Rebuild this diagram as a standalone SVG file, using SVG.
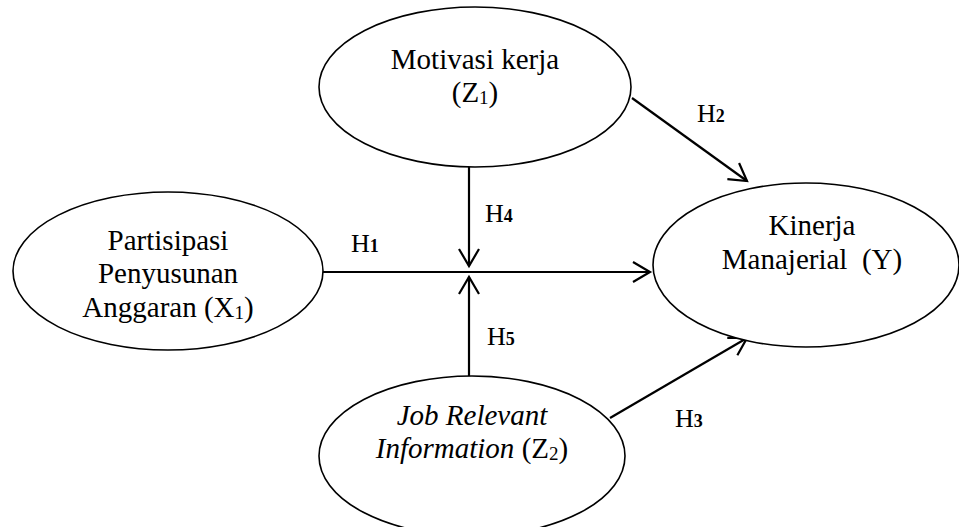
<svg xmlns="http://www.w3.org/2000/svg" width="959" height="527" viewBox="0 0 959 527">
<style>
.node ellipse{fill:#fff;stroke:#000;stroke-width:1.6}
text{font-family:"Liberation Serif","Times New Roman",serif;font-size:29px;fill:#000;text-anchor:middle}
.lbl{text-anchor:start;font-size:26px}
.sub{font-size:19px}
.hs{font-size:18px;font-weight:bold}
.conn line{stroke:#000;stroke-width:2.2;fill:none}
</style>
<defs>
<marker id="arr" markerUnits="userSpaceOnUse" markerWidth="26" markerHeight="26" refX="18" refY="11" orient="auto" viewBox="0 0 26 22">
<path d="M1,1 L18,11 L1,21" fill="none" stroke="#000" stroke-width="2.2"/>
</marker>
</defs>
<g class="conn">
<line x1="323" y1="272" x2="650" y2="272" marker-end="url(#arr)"/>
<line x1="469" y1="167" x2="469" y2="266" marker-end="url(#arr)"/>
<line x1="469" y1="376" x2="469" y2="277" marker-end="url(#arr)"/>
<line x1="632" y1="98" x2="747" y2="181" marker-end="url(#arr)"/>
<line x1="610" y1="418" x2="747" y2="338" marker-end="url(#arr)"/>
</g>
<g id="z1" class="node">
<ellipse cx="475" cy="87" rx="156" ry="80"/>
<text x="475" y="69">Motivasi kerja</text>
<text x="475" y="102">(Z<tspan class="sub" dy="2">1</tspan><tspan dy="-2">)</tspan></text>
</g>
<g id="x1" class="node">
<ellipse cx="168" cy="271" rx="155" ry="79"/>
<text x="168" y="250">Partisipasi</text>
<text x="168" y="283">Penyusunan</text>
<text x="168" y="317">Anggaran (X<tspan class="sub" dy="2">1</tspan><tspan dy="-2">)</tspan></text>
</g>
<g id="y" class="node">
<ellipse cx="806" cy="265" rx="153" ry="82"/>
<text x="812" y="235">Kinerja</text>
<text x="812" y="269" xml:space="preserve">Manajerial  (Y)</text>
</g>
<g id="z2" class="node">
<ellipse cx="472" cy="456" rx="153" ry="80"/>
<text x="472" y="425" font-style="italic">Job Relevant</text>
<text x="472" y="458"><tspan font-style="italic">Information</tspan> (Z<tspan class="sub" dy="2">2</tspan><tspan dy="-2">)</tspan></text>
</g>
<g id="labels">
<text class="lbl" x="351" y="252">H<tspan class="hs">1</tspan></text>
<text class="lbl" x="697" y="122">H<tspan class="hs">2</tspan></text>
<text class="lbl" x="675" y="427">H<tspan class="hs">3</tspan></text>
<text class="lbl" x="485" y="222">H<tspan class="hs">4</tspan></text>
<text class="lbl" x="487" y="345">H<tspan class="hs">5</tspan></text>
</g>
</svg>
